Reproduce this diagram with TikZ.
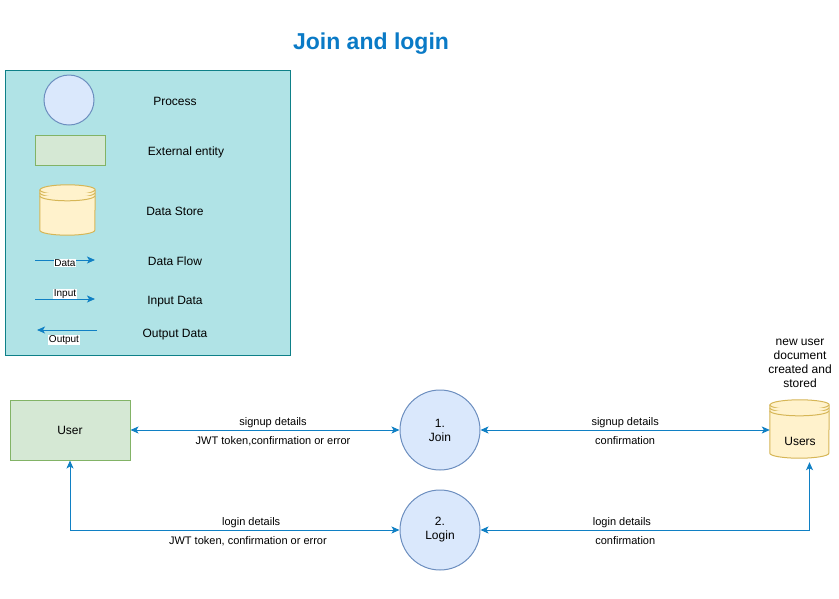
\documentclass[tikz,border=0pt]{standalone}
\usepackage{fontspec}
\setmainfont{Liberation Sans}
\usetikzlibrary{arrows.meta}

\definecolor{legendfill}{HTML}{B0E3E6}
\definecolor{legenddraw}{HTML}{0E8088}
\definecolor{procfill}{HTML}{DAE8FC}
\definecolor{procdraw}{HTML}{6C8EBF}
\definecolor{entityfill}{HTML}{D5E8D4}
\definecolor{entitydraw}{HTML}{82B366}
\definecolor{storefill}{HTML}{FFF2CC}
\definecolor{storedraw}{HTML}{D6B656}
\definecolor{flowblue}{HTML}{1080C4}
\definecolor{titleblue}{HTML}{0A7AC6}

\tikzset{
    every node/.style={font=\fontsize{12}{14}\selectfont},
    small/.style={font=\fontsize{11}{13}\selectfont},
    tiny/.style={font=\fontsize{10}{12}\selectfont, fill=white, inner sep=0.5pt},
    process/.style={circle, draw=procdraw, fill=procfill, line width=1pt, minimum size=#1, inner sep=0pt, align=center},
    entity/.style={rectangle, draw=entitydraw, fill=entityfill, line width=1pt, minimum width=#1, minimum height=#1/2},
    store/.style={draw=storedraw, fill=storefill, line width=1pt},
    flow/.style={draw=flowblue, line width=1pt, >={Stealth[length=8pt,width=7pt,inset=2pt]}},
    above label/.style={small, anchor=south, inner sep=1.5pt},
    below label/.style={small, anchor=north, inner sep=6.5pt},
}

% data store: name, centre, width, height
\newcommand{\datastore}[4]{%
    \node[minimum width=#3, minimum height=#4, inner sep=0pt] (#1) at (#2) {};
    \filldraw[store] ([yshift=-5pt]#1.north west) -- ([yshift=5pt]#1.south west)
        arc[start angle=180, end angle=0, x radius=#3/2, y radius=5]
        -- ([yshift=-5pt]#1.north east)
        arc[start angle=0, end angle=-180, x radius=#3/2, y radius=5] -- cycle;
    \draw[store] ([yshift=-5pt]#1.north west) arc[start angle=180, end angle=0, x radius=#3/2, y radius=5];
    \draw[store] ([yshift=-8pt]#1.north west) arc[start angle=180, end angle=0, x radius=#3/2, y radius=5];
    \draw[store] ([yshift=-11pt]#1.north west) arc[start angle=180, end angle=0, x radius=#3/2, y radius=5];
}

\begin{document}
\begin{tikzpicture}[x=1pt, y=-1pt]
    \useasboundingbox (0,0) rectangle (839,598);

    \node[font=\fontsize{23}{28}\selectfont\bfseries, text=titleblue] (title) at (371,43.5) {Join and login};

    % legend
    \node[draw=legenddraw, fill=legendfill, line width=1pt, minimum width=285, minimum height=285] (legend) at (147.5,212.5) {};
    \node[process=50] (legproc) at (69,100) {};
    \node (legproctext) at (175,101) {Process};
    \node[entity=70, minimum height=30] (legent) at (70,150) {};
    \node (legenttext) at (186,152) {External entity};
    \datastore{legstore}{67.5,210}{55}{50}
    \node (legstoretext) at (175,211.5) {Data Store};

    \coordinate (dataA) at (35,260);
    \coordinate (dataB) at (95,260);
    \draw[flow, ->] (dataA) -- node[tiny, yshift=-3pt] {Data} (dataB);
    \node (dataflowtext) at (175,261.5) {Data Flow};

    \coordinate (inA) at (35,299);
    \coordinate (inB) at (95,299);
    \draw[flow, ->] (inA) -- node[tiny, yshift=5pt] {Input} (inB);
    \node (inputtext) at (175,301.5) {Input Data};

    \coordinate (outA) at (97,330);
    \coordinate (outB) at (37,330);
    \draw[flow, ->] (outA) -- node[tiny, pos=0.55, yshift=-10pt] {Output} (outB);
    \node (outputtext) at (175,334.5) {Output Data};

    % diagram
    \node[entity=120] (user) at (70,430) {User};
    \node[process=80] (join) at (440,430) {1.\\Join};
    \node[process=80] (login) at (440,530) {2.\\Login};
    \datastore{users}{799.5,429}{59}{58}
    \node (userstext) at (800,441) {Users};
    \node[align=center, font=\fontsize{12}{14}\selectfont] (userscap) at (800,363.5) {new user\\document\\created and\\stored};

    \draw[flow, <->] (user.east) -- node[above label, pos=0.53] {signup details}
        node[below label, pos=0.53] {JWT token,confirmation or error} (join.west);
    \draw[flow, <->] (join.east) -- node[above label] {signup details}
        node[below label] {confirmation} (join.east -| users.west);
    \draw[flow, <->] (user.south) |- node[above label, pos=0.775] {login details}
        node[below label, pos=0.77] {JWT token, confirmation or error} (login.west);
    \draw[flow, <->] (login.east) -| node[above label, pos=0.215] {login details}
        node[below label, pos=0.22] {confirmation} ([shift={(10pt,-4pt)}]users.south);
\end{tikzpicture}
\end{document}
